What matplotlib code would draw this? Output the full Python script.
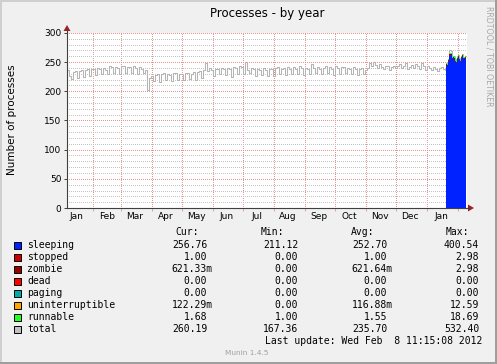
from datetime import datetime, timedelta
import matplotlib
matplotlib.use("Agg")
import matplotlib.pyplot as plt
import matplotlib.dates as mdates
from matplotlib.ticker import MultipleLocator, NullFormatter
from matplotlib.patches import Rectangle, Polygon
from matplotlib.lines import Line2D

W, H = 497, 364

# total processes, one value every 2 days from 2011-01-06
total_year = [
    236, 226, 221, 233, 235, 222, 234, 236, 224, 237, 238, 226, 238, 238, 228, 240,
    239, 229, 240, 236, 230, 243, 241, 232, 241, 240, 229, 244, 243, 231, 242, 241,
    232, 243, 240, 230, 242, 238, 232, 236, 203,
    222, 226, 218, 228, 230, 216, 229, 231, 219, 230, 228, 218, 231, 232, 220, 229,
    230, 219, 232, 231, 221, 230, 233, 220, 233, 234, 222, 236, 248, 234, 240, 237,
    226, 238, 238, 230, 240, 239, 228, 240, 238, 225, 242, 240, 229, 244, 242, 230,
    250, 236,
    232, 240, 238, 226, 238, 237, 228, 240, 236, 227, 239, 238, 226, 240, 241, 229,
    238, 240, 228, 241, 239, 230, 242, 238, 229, 243, 240, 228, 240, 239, 230, 246,
    240, 231, 242, 238, 229, 240, 243, 231, 241, 239, 228, 244, 240, 230, 242, 241,
    231, 240, 238, 229, 241, 239, 228, 238, 240, 230, 236, 240,
    248, 244, 250, 245, 240, 246, 242, 238, 244, 243, 236, 242, 244, 240, 243, 246,
    240, 244, 248, 238, 242, 245, 240, 246, 244, 239, 248, 243, 237, 244, 240, 236,
    242, 238, 234, 240, 241, 238, 236,
]

# daily values for the last days (all fields present)
sleeping = [245, 243, 250, 261, 262, 262, 256, 258, 255, 251, 249, 256, 259, 254, 251, 257, 261, 256, 255, 257]
stopped = [1.0, 1.0, 3.0, 2.5, 1.0, 1.0, 1.0, 1.0, 1.0, 1.0, 1.0, 1.0, 1.0, 1.0, 1.0, 1.0, 1.0, 1.0, 1.0, 1.0]
zombie = [0.6, 0.6, 0.6, 0.6, 0.6, 0.6, 0.6, 0.6, 0.6, 0.6, 0.6, 0.6, 0.6, 0.6, 0.6, 0.6, 0.6, 0.6, 0.6, 0.6]
dead = [0, 0, 0, 0, 0, 0, 0, 0, 0, 0, 0, 0, 0, 0, 0, 0, 0, 0, 0, 0]
paging = [0, 0, 0, 0, 0, 0, 0, 0, 0, 0, 0, 0, 0, 0, 0, 0, 0, 0, 0, 0]
uninterruptible = [0.1, 0.1, 0.2, 0.1, 0.1, 0.1, 0.1, 0.1, 0.1, 0.1, 0.1, 0.1, 0.1, 0.1, 0.1, 0.1, 0.1, 0.1, 0.1, 0.1]
runnable = [1.6, 1.7, 1.8, 1.7, 1.6, 1.7, 1.8, 1.7, 4.5, 5.0, 4.0, 1.7, 1.6, 1.7, 1.8, 1.7, 1.6, 1.7, 1.7, 1.7]
total_recent = [248, 246, 255, 270, 270, 269, 259, 261, 258, 254, 252, 259, 262, 257, 254, 260, 264, 259, 258, 260]

fields = ["sleeping", "stopped", "zombie", "dead", "paging", "uninterruptible", "runnable", "total"]
colors = ["#0022ff", "#cc0000", "#990000", "#ff0000", "#00aaaa", "#ffa500", "#22ff22", "#c0c0c0"]
cur = ["256.76", "1.00", "621.33m", "0.00", "0.00", "122.29m", "1.68", "260.19"]
mins = ["211.12", "0.00", "0.00", "0.00", "0.00", "0.00", "1.00", "167.36"]
avgs = ["252.70", "1.00", "621.64m", "0.00", "0.00", "116.88m", "1.55", "235.70"]
maxs = ["400.54", "2.98", "2.98", "0.00", "0.00", "12.59", "18.69", "532.40"]

start = datetime(2011, 1, 6)
recent_start = 379

plt.rcParams["font.family"] = "DejaVu Sans"
fig = plt.figure(figsize=(W / 100, H / 100), dpi=100, facecolor="#f0f0f0")


def fx(x):
    return x / W


def fy(y):
    return 1 - y / H


ax = fig.add_axes([fx(67), fy(208), 400 / W, 175 / H])
ax.set_facecolor("white")

# stacked areas for the recent days
d_recent = [start + timedelta(days=recent_start + i) for i in range(len(sleeping) + 1)]
stack = [sleeping, stopped, zombie, dead, paging, uninterruptible, runnable]
base = [0.0] * len(sleeping)
for vals, col in zip(stack, colors):
    top = [b + v for b, v in zip(base, vals)]
    ax.fill_between(d_recent, base + base[-1:], top + top[-1:], step="post",
                    color=col, lw=0, zorder=3)
    base = top

# total line (under the areas, shows only where it sticks out)
d_year = [start + timedelta(days=2 * i) for i in range(len(total_year))]
d_tot = d_year + d_recent
v_tot = total_year + total_recent + total_recent[-1:]
ax.plot(d_tot, v_tot, drawstyle="steps-post", color="#b4b4b4", lw=0.75, zorder=2)

ax.set_xlim(start, start + timedelta(days=400))
ax.set_ylim(0, 300)

ax.xaxis.set_major_locator(mdates.MonthLocator())
ax.xaxis.set_major_formatter(NullFormatter())
ax.xaxis.set_minor_locator(mdates.MonthLocator(bymonthday=15))
ax.xaxis.set_minor_formatter(mdates.DateFormatter("%b"))
ax.yaxis.set_major_locator(MultipleLocator(50))
ax.yaxis.set_minor_locator(MultipleLocator(10))

dot = (0, (1, 2))
ax.grid(which="minor", axis="y", color="#c4c4c4", ls=dot, lw=0.72, zorder=1, antialiased=False)
ax.grid(which="major", axis="y", color="#e89494", ls=dot, lw=0.72, zorder=1, antialiased=False)
ax.grid(which="major", axis="x", color="#e89494", ls=dot, lw=0.72, zorder=1, antialiased=False)

for s in ["top", "right"]:
    ax.spines[s].set_visible(False)
for s in ["left", "bottom"]:
    ax.spines[s].set_color("#404040")
    ax.spines[s].set_linewidth(0.8)
    ax.spines[s].set_zorder(4)

ax.tick_params(axis="y", which="major", length=2, width=0.7, color="#404040", labelsize=6.5, pad=2)
ax.tick_params(axis="y", which="minor", length=0)
ax.tick_params(axis="x", which="major", length=2, width=0.7, color="#e0a0a0")
ax.tick_params(axis="x", which="minor", length=0, labelsize=6.5, pad=3)

# arrows at the ends of the axes
fig.add_artist(Line2D([fx(67), fx(67)], [fy(33), fy(30)], color="#404040", lw=0.8))
fig.add_artist(Line2D([fx(467), fx(469)], [fy(208), fy(208)], color="#404040", lw=0.8))
fig.add_artist(Polygon([[fx(63.5), fy(31)], [fx(70.5), fy(31)], [fx(67), fy(25)]],
                       closed=True, color="#a02020", lw=0))
fig.add_artist(Polygon([[fx(468), fy(204.5)], [fx(468), fy(211.5)], [fx(474), fy(208)]],
                       closed=True, color="#a02020", lw=0))

# titles
fig.text(fx(267), fy(14), "Processes - by year", ha="center", va="center", fontsize=8.5)
fig.text(fx(12), fy(120), "Number of processes", ha="center", va="center",
         rotation=90, fontsize=7.5)
fig.text(fx(489), fy(56), "RRDTOOL / TOBI OETIKER", ha="center", va="center",
         rotation=270, fontsize=5.7, color="#a8a8a8")

# legend
mono = "DejaVu Sans Mono"
cw = 5.9
heads = [("Cur:", 187.5), ("Min:", 272.5), ("Avg:", 362.5), ("Max:", 457.5)]
for h, x in heads:
    fig.text(fx(x), fy(232), h, ha="center", va="center", family=mono, fontsize=7)

cols = [(cur, 213), (mins, 304), (avgs, 393), (maxs, 485)]
for i, name in enumerate(fields):
    y = 245 + 12 * i
    fig.add_artist(Rectangle((fx(13.5), fy(y + 3.5)), 7 / W, 7 / H, transform=fig.transFigure,
                             facecolor=colors[i], edgecolor="black", lw=0.7))
    fig.text(fx(27), fy(y), name, ha="left", va="center", family=mono, fontsize=7)
    for vals, right in cols:
        s = vals[i]
        r = right if s.endswith("m") else right - cw
        fig.text(fx(r), fy(y), s, ha="right", va="center", family=mono, fontsize=7)

fig.text(fx(482), fy(341), "Last update: Wed Feb  8 11:15:08 2012", ha="right", va="center",
         family=mono, fontsize=7)
fig.text(fx(247), fy(353), "Munin 1.4.5", ha="center", va="center", fontsize=5.3, color="#a0a0a0")

# frame
fig.add_artist(Rectangle((0, 0), 2 / W, 1, transform=fig.transFigure, color="#cfcfcf", lw=0))
fig.add_artist(Rectangle((0, 1 - 2 / H), 1, 2 / H, transform=fig.transFigure, color="#cfcfcf", lw=0))
fig.add_artist(Rectangle((1 - 2 / W, 0), 2 / W, 1, transform=fig.transFigure, color="#9e9e9e", lw=0))
fig.add_artist(Rectangle((0, 0), 1, 2 / H, transform=fig.transFigure, color="#9e9e9e", lw=0))

fig.savefig("out.png", dpi=100, facecolor=fig.get_facecolor())
